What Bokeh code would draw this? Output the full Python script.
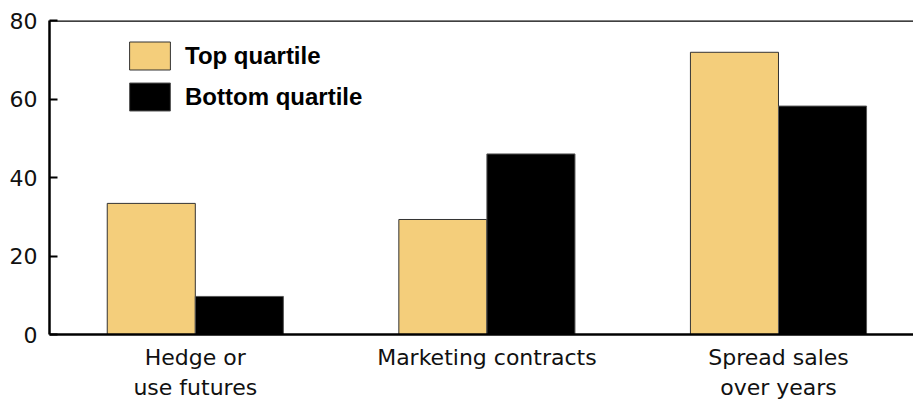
from bokeh.plotting import figure
from bokeh.models import ColumnDataSource, Legend, LegendItem, Span, FixedTicker
from bokeh.embed import file_html
from bokeh.resources import INLINE

categories = ["Hedge or\nuse futures", "Marketing contracts", "Spread sales\nover years"]
top_quartile = [33.4, 29.3, 71.9]
bottom_quartile = [9.7, 46.0, 58.2]
y_ticks = [0, 20, 40, 60, 80]

x = list(range(len(categories)))
bw = 0.302
src_top = ColumnDataSource(dict(x=[i - bw / 2 for i in x], top=top_quartile))
src_bot = ColumnDataSource(dict(x=[i + bw / 2 for i in x], top=bottom_quartile))

p = figure(frame_width=864, frame_height=314, x_range=(-0.5, 2.463), y_range=(0, 80),
           output_backend="svg", toolbar_location=None,
           min_border_left=49, min_border_right=0, min_border_top=20, min_border_bottom=62)
p.outline_line_color = None
p.grid.grid_line_color = None

YELLOW = "#F4CE7B"
r1 = p.vbar(x="x", top="top", width=bw, source=src_top, fill_color=YELLOW,
            line_color="#333333", line_width=1)
r2 = p.vbar(x="x", top="top", width=bw, source=src_bot, fill_color="black",
            line_color="#555555", line_width=1)

p.add_layout(Span(location=80, dimension="width", line_color="black", line_width=2.5))

FONT = "DejaVu Sans"
p.yaxis.ticker = FixedTicker(ticks=y_ticks)
p.yaxis.axis_line_width = 2.5
p.yaxis.axis_line_color = "black"
p.yaxis.major_tick_in = 8
p.yaxis.major_tick_out = 0
p.yaxis.major_tick_line_width = 2
p.yaxis.major_tick_line_color = "black"
p.yaxis.minor_tick_line_color = None
p.yaxis.major_label_text_font = FONT
p.yaxis.major_label_text_font_size = "22px"
p.yaxis.major_label_text_color = "#111111"
p.yaxis.major_label_standoff = 12

p.xaxis.ticker = FixedTicker(ticks=x)
p.xaxis.major_label_overrides = {i: c for i, c in zip(x, categories)}
p.xaxis.axis_line_width = 2.5
p.xaxis.axis_line_color = "black"
p.xaxis.major_tick_line_color = None
p.xaxis.minor_tick_line_color = None
p.xaxis.major_label_text_font = FONT
p.xaxis.major_label_text_font_size = "22px"
p.xaxis.major_label_text_color = "#111111"
p.xaxis.major_label_standoff = 4

legend = Legend(items=[LegendItem(label="Top quartile", renderers=[r1]),
                       LegendItem(label="Bottom quartile", renderers=[r2])],
                location=(75, 220), orientation="vertical")
legend.glyph_width = 51
legend.glyph_height = 35
legend.label_height = 35
legend.spacing = 6
legend.padding = 0
legend.margin = 0
legend.label_standoff = 10
legend.border_line_color = None
legend.background_fill_alpha = 0
legend.label_text_font = "Liberation Sans"
legend.label_text_font_style = "bold"
legend.label_text_font_size = "24px"
legend.label_text_color = "black"
p.add_layout(legend, "center")

open("out.html", "w").write(file_html(p, INLINE))
